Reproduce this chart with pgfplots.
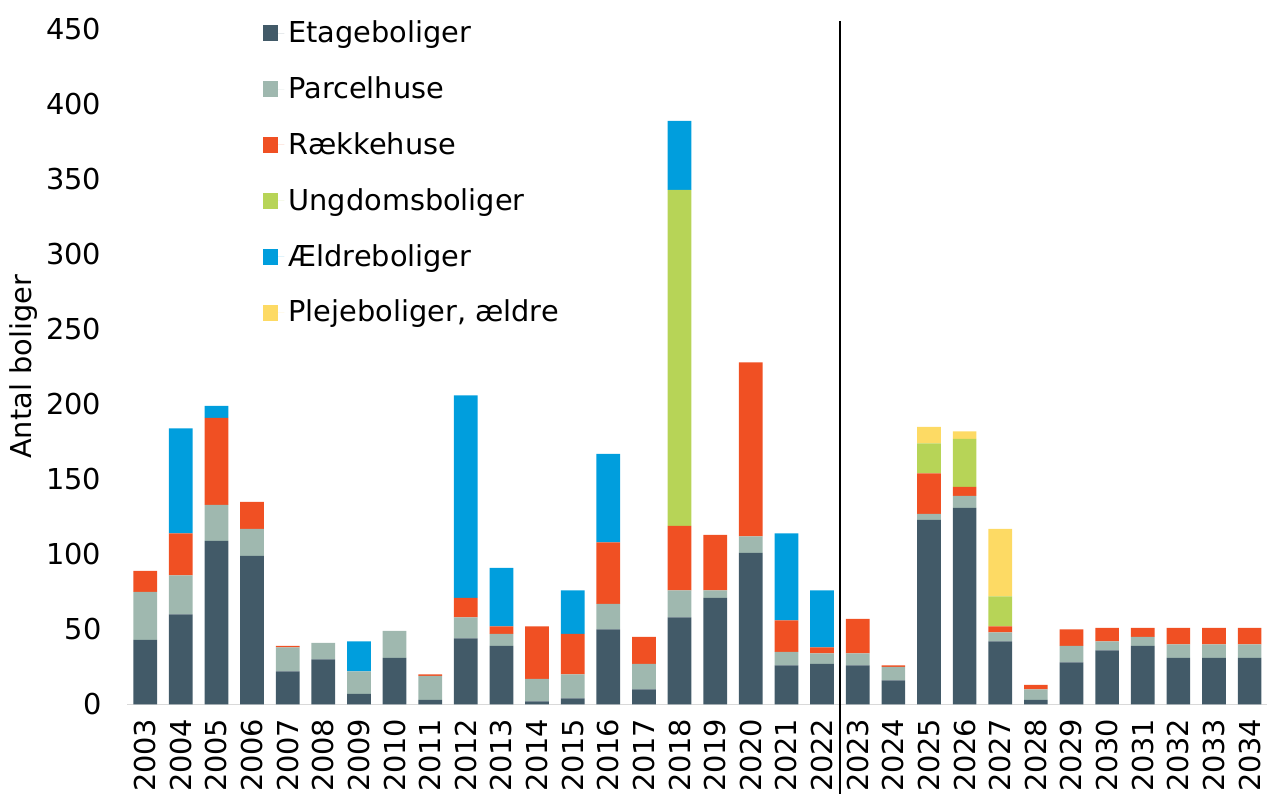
\documentclass[border=0pt]{standalone}
\usepackage{fontspec}
\setmainfont{DejaVu Sans}
\usepackage{pgfplots}
\usepackage{pgfplotstable}
\pgfplotsset{compat=1.18}

\definecolor{cEtage}{HTML}{425A68}
\definecolor{cParcel}{HTML}{9FB8AF}
\definecolor{cRaekke}{HTML}{F05023}
\definecolor{cUngdom}{HTML}{B7D457}
\definecolor{cAeldre}{HTML}{009EDD}
\definecolor{cPleje}{HTML}{FDDA64}

% x = 0 ... 31 for 2003 ... 2034
\pgfplotstableread{
x  e    p   r    u    ae   pl
0  43   32  14   0    0    0
1  60   26  28   0    70   0
2  109  24  58   0    8    0
3  99   18  18   0    0    0
4  22   16  1    0    0    0
5  30   11  0    0    0    0
6  7    15  0    0    20   0
7  31   18  0    0    0    0
8  3    16  1    0    0    0
9  44   14  13   0    135  0
10 39   8   5    0    39   0
11 2    15  35   0    0    0
12 4    16  27   0    29   0
13 50   17  41   0    59   0
14 10   17  18   0    0    0
15 58   18  43   224  46   0
16 71   5   37   0    0    0
17 101  11  116  0    0    0
18 26   9   21   0    58   0
19 27   7   4    0    38   0
20 26   8   23   0    0    0
21 16   9   1    0    0    0
22 123  4   27   20   0    11
23 131  8   6    32   0    5
24 42   6   4    20   0    45
25 3    7   3    0    0    0
26 28   11  11   0    0    0
27 36   6   9    0    0    0
28 39   6   6    0    0    0
29 31   9   11   0    0    0
30 31   9   11   0    0    0
31 31   9   11   0    0    0
}\boligtab

\begin{document}
\begin{tikzpicture}
\useasboundingbox (-63.7pt,-44.35pt) rectangle (573.3pt,352.15pt);
\begin{axis}[
    scale only axis,
    width=570pt,
    height=337.5pt,
    xmin=-0.5, xmax=31.5,
    ymin=0, ymax=450,
    ybar stacked,
    bar width=0.665,
    font=\fontsize{14.4}{17.3}\selectfont,
    /pgf/number format/assume math mode=true,
    xtick={0,...,31},
    xticklabels={2003,2004,2005,2006,2007,2008,2009,2010,2011,2012,2013,2014,2015,2016,2017,2018,2019,2020,2021,2022,2023,2024,2025,2026,2027,2028,2029,2030,2031,2032,2033,2034},
    x tick label style={inner sep=1pt, yshift=-6pt, rotate=90, anchor=east},
    ytick={0,50,...,450},
    y tick label style={xshift=-9.5pt},
    major tick length=0pt,
    axis x line*=bottom,
    axis y line*=left,
    y axis line style={draw=none},
    x axis line style={-, draw=black!15, line width=0.8pt},
    ylabel={Antal boliger},
    ylabel style={at={(axis description cs:-0.0912,0.5)}, anchor=center},
    clip=false,
    legend style={
        at={(axis description cs:0.119,1)}, anchor=north west,
        yshift=8.5pt, xshift=-3pt,
        draw=none, fill=none, row sep=11.5pt,
        legend cell align=left,
    },
    legend image code/.code={
        \fill[#1] (0pt,-4pt) rectangle (7.5pt,4pt);
        \path (0pt,0pt) -- (10.5pt,0pt);
    },
    every axis plot/.append style={draw=none},
]
\addplot[fill=cEtage] table[x=x, y=e] {\boligtab};
\addplot[fill=cParcel] table[x=x, y=p] {\boligtab};
\addplot[fill=cRaekke] table[x=x, y=r] {\boligtab};
\addplot[fill=cUngdom] table[x=x, y=u] {\boligtab};
\addplot[fill=cAeldre] table[x=x, y=ae] {\boligtab};
\addplot[fill=cPleje] table[x=x, y=pl] {\boligtab};
\legend{Etageboliger, Parcelhuse, Rækkehuse, Ungdomsboliger, Ældreboliger, {Plejeboliger, ældre}}
\draw[black, line width=1pt] (axis cs:19.5,455.6) -- ([yshift=-50pt]axis cs:19.5,0);
\end{axis}
\end{tikzpicture}
\end{document}
